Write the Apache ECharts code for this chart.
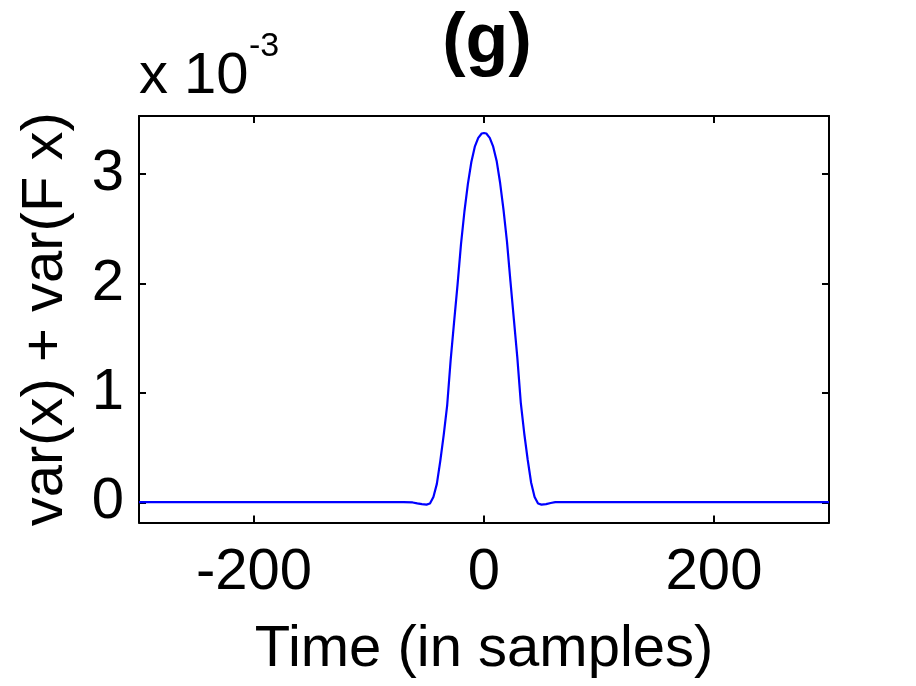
<!DOCTYPE html>
<html>
<head>
<meta charset="utf-8">
<script src="https://cdn.jsdelivr.net/npm/echarts@6/dist/echarts.min.js"></script>
<style>
html,body{margin:0;padding:0;background:#fff;}
#main{width:916px;height:686px;}
</style>
</head>
<body>
<div id="main"></div>
<script>
// Time (in samples)
var timeSamples = [-300,-100,-70,-62,-58,-54,-50,-47,-44,-41,-38,-35,-32,-29,-26,-23,-20,-17,-14,-11,-8,-5,-2,0,2,5,8,11,14,17,20,23,26,29,32,35,38,41,44,47,50,54,58,62,70,100,300];
// var(x) + var(F x), in units of 1e-3
var varSum = [0.003,0.003,0.004,0.0,-0.008,-0.015,-0.02,-0.01,0.05,0.17,0.38,0.62,0.89,1.30,1.65,1.99,2.36,2.66,2.91,3.11,3.25,3.33,3.37,3.375,3.37,3.33,3.25,3.12,2.92,2.67,2.38,2.02,1.67,1.32,0.91,0.63,0.39,0.18,0.05,-0.01,-0.02,-0.015,-0.005,0.003,0.004,0.003,0.003];
var xTicks = [-200,0,200];
var yTicks = [0,1,2,3];

var FONT = '"Liberation Sans", Arial, Helvetica, sans-serif';
var pts = timeSamples.map(function(t,i){return [t,varSum[i]];});

var chart = echarts.init(document.getElementById('main'), null, {renderer:'canvas'});
var axisLineStyle = {color:'#000', width:2};
chart.setOption({
  animation:false,
  backgroundColor:'#fff',
  title:{
    text:'(g)', left:482, top:3, textAlign:'center',
    textStyle:{fontFamily:FONT, fontSize:70, fontWeight:'bold', color:'#000'}
  },
  grid:{left:139, right:87, top:116, bottom:163.5, show:false, containLabel:false},
  xAxis:[{
    type:'value', min:-300, max:300, position:'bottom',
    axisLine:{show:true, onZero:false, lineStyle:axisLineStyle},
    axisTick:{show:true, inside:true, length:7, customValues:xTicks, lineStyle:axisLineStyle},
    axisLabel:{show:true, customValues:xTicks, margin:21, fontFamily:FONT, fontSize:58, color:'#000'},
    splitLine:{show:false},
    name:'Time (in samples)', nameLocation:'middle', nameGap:98,
    nameTextStyle:{fontFamily:FONT, fontSize:58, color:'#000'}
  },{
    type:'value', min:-300, max:300, position:'top',
    axisLine:{show:true, onZero:false, lineStyle:axisLineStyle},
    axisTick:{show:true, inside:true, length:7, customValues:xTicks, lineStyle:axisLineStyle},
    axisLabel:{show:false}, splitLine:{show:false}
  }],
  yAxis:[{
    type:'value', min:-0.183, max:3.53, position:'left',
    axisLine:{show:true, onZero:false, lineStyle:axisLineStyle},
    axisTick:{show:true, inside:true, length:7, customValues:yTicks, lineStyle:axisLineStyle},
    axisLabel:{show:true, customValues:yTicks, margin:15, fontFamily:FONT, fontSize:58, color:'#000'},
    splitLine:{show:false},
    name:'var(x) + var(F x)', nameLocation:'middle', nameGap:64, nameRotate:90,
    nameTextStyle:{fontFamily:FONT, fontSize:58, color:'#000'}
  },{
    type:'value', min:-0.183, max:3.53, position:'right',
    axisLine:{show:true, onZero:false, lineStyle:axisLineStyle},
    axisTick:{show:true, inside:true, length:7, customValues:yTicks, lineStyle:axisLineStyle},
    axisLabel:{show:false}, splitLine:{show:false}
  }],
  graphic:[
    {type:'text', left:139, top:48, style:{text:'x 10', fontFamily:FONT, fontSize:58, fill:'#000'}},
    {type:'text', left:249, top:30, style:{text:'-3', fontFamily:FONT, fontSize:34, fill:'#000'}}
  ],
  series:[{
    type:'line', data:pts, xAxisIndex:0, yAxisIndex:0,
    showSymbol:false, smooth:false,
    lineStyle:{color:'#0000ff', width:2.2},
    silent:true
  }]
});
</script>
</body>
</html>
